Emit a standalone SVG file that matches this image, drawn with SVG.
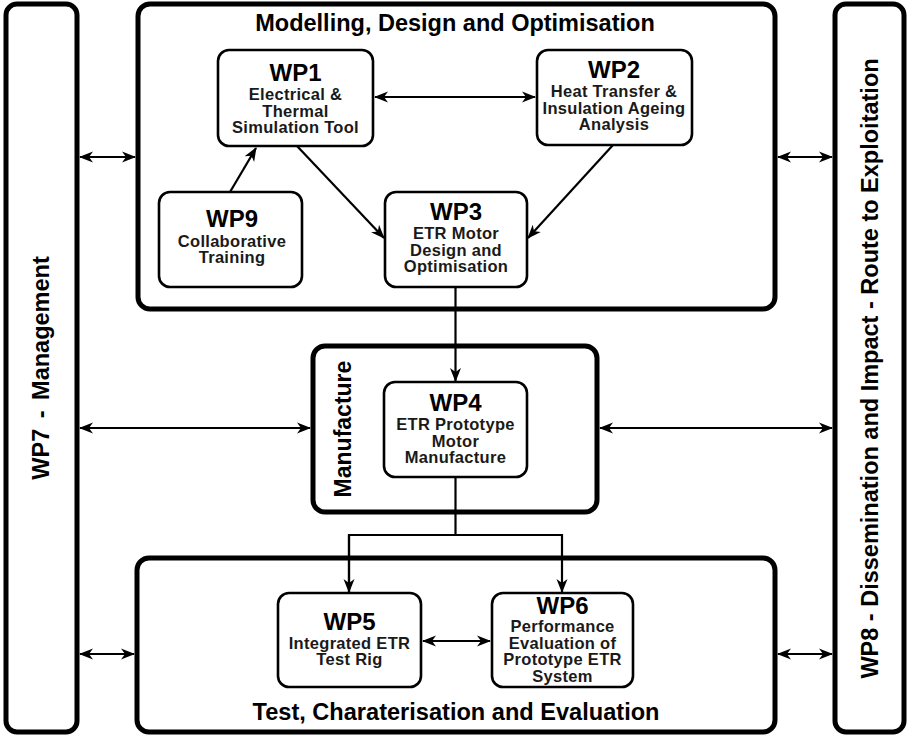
<svg xmlns="http://www.w3.org/2000/svg" width="909" height="738" viewBox="0 0 909 738">
<defs>
<marker id="ah" markerUnits="userSpaceOnUse" markerWidth="14" markerHeight="12" viewBox="0 0 14 12" refX="13" refY="6" orient="auto-start-reverse">
<path d="M0,0.5 L14,6 L0,11.5 L4,6 z" fill="#000"/>
</marker>
</defs>
<style>
.outer{fill:#fff;stroke:#000;stroke-width:5}
.node{fill:#fff;stroke:#000;stroke-width:2.6}
.wp{font-family:"Liberation Sans",Arial,sans-serif;font-weight:bold;font-size:24px;text-anchor:middle;fill:#000}
.sub{font-family:"Liberation Sans",Arial,sans-serif;font-weight:bold;font-size:16.5px;text-anchor:middle;fill:#1a1a1a;letter-spacing:0.3px}
.title{font-family:"Liberation Sans",Arial,sans-serif;font-weight:bold;font-size:23.5px;text-anchor:middle;fill:#000}
.vt{font-family:"Liberation Sans",Arial,sans-serif;font-weight:bold;text-anchor:middle;fill:#000}
.c{fill:none;stroke:#000;stroke-width:2.2}
.ca{fill:none;stroke:#000;stroke-width:2.2;marker-end:url(#ah)}
.cb{fill:none;stroke:#000;stroke-width:2.2;marker-start:url(#ah);marker-end:url(#ah)}
</style>
<rect width="909" height="738" fill="#fff"/>

<g id="wp7">
<rect class="outer" x="6" y="4" width="71" height="728" rx="11"/>
<text class="vt" font-size="23.5" word-spacing="4" transform="translate(49,368) rotate(-90)">WP7 - Management</text>
</g>
<g id="wp8">
<rect class="outer" x="835" y="4" width="69" height="728" rx="11"/>
<text class="vt" font-size="23.5" transform="translate(878,368.5) rotate(-90)">WP8 - Dissemination and Impact - Route to Exploitation</text>
</g>

<g id="modelling">
<rect class="outer" x="138" y="4" width="637" height="305" rx="12"/>
<text class="title" x="455" y="31">Modelling, Design and Optimisation</text>
</g>
<g id="manufacture">
<rect class="outer" x="313" y="346" width="284" height="166" rx="12"/>
<text class="vt" font-size="23" transform="translate(351,429) rotate(-90)">Manufacture</text>
</g>
<g id="test">
<rect class="outer" x="137" y="558" width="638" height="174" rx="12"/>
<text class="title" x="456" y="720" font-size="25" textLength="407" lengthAdjust="spacingAndGlyphs">Test, Charaterisation and Evaluation</text>
</g>

<g id="WP1">
<rect class="node" x="218" y="50" width="155" height="96" rx="11"/>
<text class="wp" x="295.5" y="81">WP1</text>
<text class="sub" x="295.5" y="100">Electrical &amp;</text>
<text class="sub" x="295.5" y="116.5">Thermal</text>
<text class="sub" x="295.5" y="133">Simulation Tool</text>
</g>
<g id="WP2">
<rect class="node" x="537" y="50" width="155" height="95" rx="11"/>
<text class="wp" x="614" y="78">WP2</text>
<text class="sub" x="614" y="97">Heat Transfer &amp;</text>
<text class="sub" x="614" y="113.5">Insulation Ageing</text>
<text class="sub" x="614" y="130">Analysis</text>
</g>
<g id="WP9">
<rect class="node" x="159" y="192" width="143" height="95" rx="11"/>
<text class="wp" x="232" y="227">WP9</text>
<text class="sub" x="232" y="246.5">Collaborative</text>
<text class="sub" x="232" y="263">Training</text>
</g>
<g id="WP3">
<rect class="node" x="385" y="192" width="142" height="95" rx="11"/>
<text class="wp" x="456" y="220">WP3</text>
<text class="sub" x="456" y="239">ETR Motor</text>
<text class="sub" x="456" y="255.5">Design and</text>
<text class="sub" x="456" y="272">Optimisation</text>
</g>
<g id="WP4">
<rect class="node" x="384" y="382" width="143" height="95" rx="11"/>
<text class="wp" x="455.5" y="411">WP4</text>
<text class="sub" x="455.5" y="430">ETR Prototype</text>
<text class="sub" x="455.5" y="446.5">Motor</text>
<text class="sub" x="455.5" y="463">Manufacture</text>
</g>
<g id="WP5">
<rect class="node" x="278" y="593" width="143" height="94" rx="11"/>
<text class="wp" x="349.5" y="630">WP5</text>
<text class="sub" x="349.5" y="648.5">Integrated ETR</text>
<text class="sub" x="349.5" y="665">Test Rig</text>
</g>
<g id="WP6">
<rect class="node" x="492" y="593" width="141" height="94" rx="11"/>
<text class="wp" x="562.5" y="614">WP6</text>
<text class="sub" x="562.5" y="632">Performance</text>
<text class="sub" x="562.5" y="648.5">Evaluation of</text>
<text class="sub" x="562.5" y="665">Prototype ETR</text>
<text class="sub" x="562.5" y="681.5">System</text>
</g>

<g id="connectors">
<line class="cb" x1="375" y1="97" x2="535" y2="97"/>
<line class="ca" x1="230" y1="192" x2="256" y2="148"/>
<line class="ca" x1="297" y1="146" x2="384" y2="238"/>
<line class="ca" x1="613" y1="145" x2="528" y2="238"/>
<line class="ca" x1="455.5" y1="287" x2="455.5" y2="381"/>
<polyline class="c" points="455.5,477 455.5,535"/>
<polyline class="ca" points="349,592 349,535 562,535 562,592"/>
<path class="ca" d="M349,535 L349,592"/>
<line class="cb" x1="423" y1="641" x2="490" y2="641"/>
<line class="cb" x1="80" y1="157" x2="135" y2="157"/>
<line class="cb" x1="80" y1="428" x2="310" y2="428"/>
<line class="cb" x1="80" y1="654" x2="134" y2="654"/>
<line class="cb" x1="778" y1="157" x2="832" y2="157"/>
<line class="cb" x1="600" y1="428" x2="832" y2="428"/>
<line class="cb" x1="778" y1="654" x2="832" y2="654"/>
</g>
</svg>
